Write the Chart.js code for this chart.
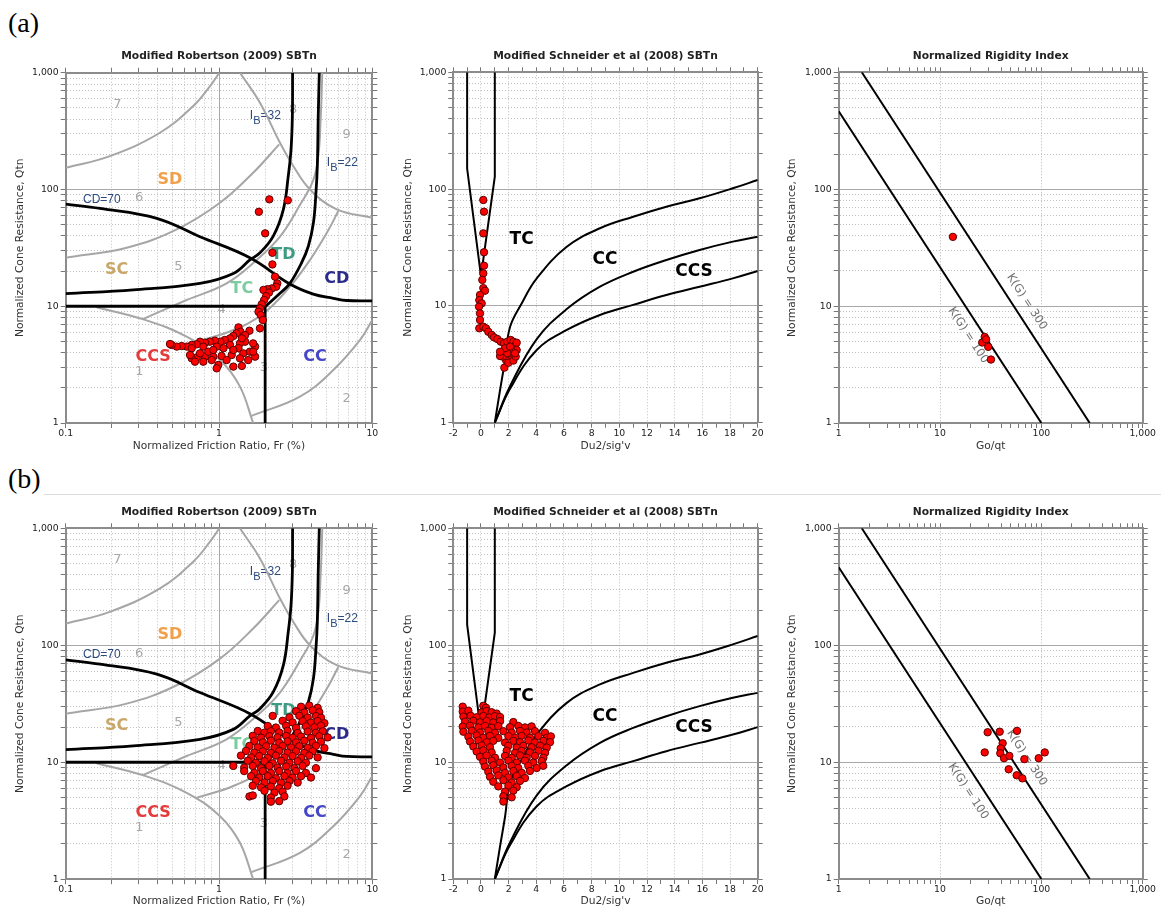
<!DOCTYPE html>
<html>
<head>
<meta charset="utf-8">
<script src="https://cdn.jsdelivr.net/npm/chart.js@4.4.1/dist/chart.umd.min.js"></script>
<style>
  body { margin: 0; background: #fff; width: 1161px; height: 910px; position: relative; overflow: hidden; }
  canvas { position: absolute; }
  .tag { position: absolute; left: 8px; font: 28px "Liberation Serif"; line-height: 28px; color: #000; }
  .sep { position: absolute; left: 44px; right: 0; top: 494px; border-top: 1px solid #dcdcdc; }
</style>
</head>
<body>
<div class="tag" style="top:9px">(a)</div>
<div class="tag" style="top:465px">(b)</div>
<div class="sep"></div>
<canvas id="c1" width="385" height="420" style="left:0;top:40px"></canvas>
<canvas id="c2" width="385" height="420" style="left:390px;top:40px"></canvas>
<canvas id="c3" width="386" height="420" style="left:775px;top:40px"></canvas>
<canvas id="c4" width="385" height="414" style="left:0;top:496px"></canvas>
<canvas id="c5" width="385" height="414" style="left:390px;top:496px"></canvas>
<canvas id="c6" width="386" height="414" style="left:775px;top:496px"></canvas>
<script>
// tick values
const frTicks = [0.1, 0.2, 0.3, 0.4, 0.5, 0.6, 0.7, 0.8, 0.9, 1, 2, 3, 4, 5, 6, 7, 8, 9, 10];
const qTicks = [1, 2, 3, 4, 5, 6, 7, 8, 9, 10, 20, 30, 40, 50, 60, 70, 80, 90, 100, 200, 300, 400, 500, 600, 700, 800, 900, 1000];
const goTicks = [1, 2, 3, 4, 5, 6, 7, 8, 9, 10, 20, 30, 40, 50, 60, 70, 80, 90, 100, 200, 300, 400, 500, 600, 700, 800, 900, 1000];
const duTicks = [-2, -1, 0, 1, 2, 3, 4, 5, 6, 7, 8, 9, 10, 11, 12, 13, 14, 15, 16, 17, 18, 19, 20];
const qLabels = { 1: '1', 10: '10', 100: '100', 1000: '1,000' };
const frLabels = { 0.1: '0.1', 1: '1', 10: '10' };

// Robertson (2009) boundaries  [Fr %, Qtn]
const robZone7 = [[0.1, 153], [0.194, 193], [0.412, 306], [0.679, 518], [0.874, 768], [1.005, 1000]];
const robZone6 = [[0.1, 26], [0.25, 31.7], [0.53, 45.5], [1.015, 76.9], [1.67, 139], [2.47, 243]];
const robZone8 = [[1.37, 1000], [1.85, 553], [2.5, 251], [3.05, 159], [3.92, 100], [5.86, 67.6], [10, 57.3]];
const robZone5 = [[0.321, 7.8], [0.615, 11.3], [1.12, 15.7], [1.76, 24.9], [2.5, 39.4], [3.37, 73.5], [4.12, 120], [4.45, 197], [4.6, 393], [4.72, 1000]];
const robZone4 = [[0.716, 4.97], [1.24, 6.26], [1.95, 8.69], [2.9, 14.7], [3.92, 24.9], [5.17, 44.9], [6.0, 65.3]];
const robZone1 = [[0.159, 9.79], [0.321, 7.73], [0.615, 5.48], [1.015, 3.46], [1.37, 2.05], [1.67, 1]];
const robZone2 = [[1.63, 1.15], [3.37, 1.68], [5.57, 2.84], [8.32, 5.14], [10, 7.62]];
const ibLine32 = [[0.1, 12.8], [0.276, 13.8], [0.751, 15.7], [1.24, 19.1], [1.59, 24.9], [1.85, 28.7], [2.26, 39.9], [2.63, 67.6], [2.83, 130], [2.95, 220], [3.01, 425], [3.02, 1000]];
const ibLine22 = [[2, 10], [2.05, 10.2], [2.5, 12.9], [2.9, 15.7], [3.46, 23.6], [3.83, 32.8], [4.13, 51.9], [4.29, 93.7], [4.38, 159], [4.44, 425], [4.51, 1000]];
const cdLine70 = [[0.1, 75], [0.1675, 68.9], [0.393, 56.6], [0.751, 39.4], [1.59, 26], [2.9, 15.5], [4.12, 12.7], [5.57, 11.7], [6.8, 11.2], [10, 11.1]];
const limQ10 = [[0.1, 10], [2, 10]];
const limFr2 = [[2, 10], [2, 1]];

// Schneider (2008) boundaries  [Du2/sig'v, Qtn]
const schLeftArm = [[-1, 1000], [-1, 150], [0, 18]];
const schRightArm = [[1, 1000], [1, 128], [0, 18]];
const schTC = [[1, 1], [1.375, 1.89], [1.74, 3.41], [2.1, 6.6], [2.94, 10.5], [4.03, 17.2], [6.2, 32.1], [8.6, 46.2], [11, 58], [13.4, 70.7], [15.8, 83.4], [18.2, 101.6], [20, 119.7]];
const schCC = [[1, 1], [2.1, 2.05], [4.03, 5.2], [6.2, 9.4], [8.6, 14.6], [11, 19.6], [13.4, 24.7], [15.8, 30.1], [18.2, 35.5], [20, 39.1]];
const schCCS = [[1, 1], [2.1, 1.95], [4.03, 4.19], [6.2, 6.22], [8.6, 8.36], [11, 10.2], [13.4, 12.4], [15.8, 14.6], [18.2, 17.2], [20, 19.9]];

// rigidity index lines  [Go/qt, Qtn]
const kgLine100 = [[1, 464], [100, 1]];
const kgLine300 = [[1.69, 1000], [300, 1]];

// (a) data
const robTopPts = [[2.13, 82.3], [2.81, 80.7], [1.82, 64.4], [2.0, 42.1], [2.23, 28.7], [2.23, 22.8],
  [2.32, 17.9], [2.40, 15.7], [2.36, 14.7], [2.21, 14.2], [2.07, 14.0], [1.95, 13.8], [2.12, 13.1], [2.03, 12.2],
  [1.97, 11.3], [1.90, 10.4], [1.85, 9.6], [1.81, 8.97], [1.87, 8.41], [1.93, 7.62], [1.85, 6.47],
  [1.58, 6.17], [1.34, 6.59], [1.38, 6.05], [1.30, 5.86], [1.24, 5.56], [1.18, 5.31], [1.44, 5.48], [1.48, 4.97],
  [1.37, 4.81], [1.09, 5.14], [1.02, 4.97], [0.94, 5.07], [0.873, 4.97], [0.811, 4.87], [0.752, 4.97], [0.716, 4.72],
  [0.664, 4.66], [0.616, 4.51], [0.571, 4.56], [0.530, 4.51], [0.491, 4.66], [0.664, 4.37], [0.79, 4.51], [0.966, 4.51],
  [1.18, 4.66], [1.34, 4.37], [1.72, 4.51], [1.67, 4.81], [1.59, 4.08], [1.44, 3.95], [1.21, 3.82], [1.04, 3.75],
  [0.918, 3.70], [0.811, 3.70], [0.716, 3.65], [0.664, 3.58], [0.697, 3.35], [0.79, 3.35], [0.896, 3.46], [0.99, 3.14],
  [0.966, 2.94], [1.24, 3.04], [1.41, 3.08], [1.55, 3.46], [1.72, 3.70], [1.67, 4.08], [1.37, 3.58], [1.12, 3.46],
  [0.851, 4.08], [0.752, 3.95], [1.24, 4.22], [1.07, 4.37], [0.918, 4.22], [1.48, 5.66], [1.41, 5.31], [0.647, 3.82], [0.479, 4.75]];
const schTopPts = [[0.168, 80.7], [0.219, 64.1], [0.168, 41.8], [0.219, 28.8], [0.219, 22.1], [0.168, 19.0], [0.096, 16.7],
  [0.168, 14.2], [0.29, 13.5], [-0.07, 12.4], [-0.12, 11.2], [0.05, 10.5], [-0.14, 9.85], [-0.07, 8.63], [-0.07, 7.57],
  [-0.12, 6.43], [0.168, 6.64], [0.36, 6.43], [0.53, 6.01], [0.775, 5.64], [0.94, 5.38], [1.18, 5.21], [1.43, 4.94],
  [1.66, 4.79], [1.90, 4.94], [2.15, 5.11], [2.34, 4.94], [2.46, 4.54], [2.34, 4.14], [2.22, 3.78], [2.05, 3.49],
  [1.81, 3.44], [1.57, 3.68], [1.38, 3.72], [1.69, 2.96], [1.98, 3.26], [2.34, 3.40], [2.51, 3.68], [2.58, 4.19],
  [2.58, 4.84], [2.22, 4.14], [1.90, 3.93], [1.74, 4.34], [2.10, 4.48], [2.46, 3.93], [1.38, 4.05]];
const kgTopPts = [[13.4, 39.1], [27.6, 5.45], [26.1, 4.88], [29.9, 4.48], [31.8, 3.49], [28.5, 5.2]];

// (b) data
const robBotPts = [[3.43, 29.8], [3.88, 30.5], [4.40, 29.2],
  [3.18, 27.3], [3.60, 26.6], [4.08, 27.8], [4.51, 26.8],
  [2.24, 24.9], [2.88, 24.2], [3.34, 25.0], [3.79, 24.1], [4.29, 24.8], [4.63, 24.0],
  [2.60, 22.6], [3.02, 21.9], [3.51, 22.4], [3.98, 21.8], [4.40, 22.5], [4.87, 21.6],
  [2.08, 20.4], [2.35, 19.8], [2.74, 20.5], [3.18, 19.7], [3.69, 20.3], [4.19, 19.9], [4.63, 20.6],
  [1.79, 18.5], [1.98, 17.9], [2.18, 18.4], [2.47, 18.0], [2.80, 18.6], [3.26, 17.8], [3.79, 18.3], [4.29, 17.9], [4.75, 18.4],
  [1.66, 16.8], [1.88, 16.2], [2.13, 16.7], [2.41, 16.3], [2.74, 16.8], [3.02, 16.2], [3.43, 16.6], [3.98, 16.1], [4.51, 16.7], [5.12, 16.3],
  [1.70, 15.2], [1.93, 14.8], [2.18, 15.3], [2.47, 14.7], [2.80, 15.1], [3.18, 14.8], [3.60, 15.3], [4.08, 14.7], [4.63, 15.0],
  [1.58, 13.8], [1.79, 13.4], [2.03, 13.7], [2.30, 13.3], [2.60, 13.8], [2.95, 13.4], [3.34, 13.7], [3.79, 13.3], [4.29, 13.8], [4.87, 13.2],
  [1.50, 12.5], [1.70, 12.1], [1.93, 12.4], [2.18, 12.0], [2.47, 12.5], [2.80, 12.1], [3.18, 12.4], [3.60, 12.0], [4.08, 12.4],
  [1.39, 11.4], [1.62, 11.0], [1.83, 11.3], [2.08, 10.9], [2.35, 11.4], [2.67, 11.0], [3.02, 11.3], [3.43, 10.9], [3.88, 11.4], [4.40, 11.0],
  [1.54, 10.3], [1.74, 9.9], [1.98, 10.2], [2.24, 9.8], [2.54, 10.3], [2.88, 9.9], [3.26, 10.2], [3.69, 9.9],
  [1.24, 9.3], [1.46, 9.0], [1.66, 9.3], [1.88, 8.9], [2.13, 9.3], [2.41, 9.0], [2.74, 9.2], [3.10, 8.9], [3.51, 9.3], [4.29, 8.9],
  [1.46, 8.4], [1.70, 8.1], [1.93, 8.4], [2.18, 8.1], [2.47, 8.4], [2.80, 8.1], [3.18, 8.4], [3.69, 8.1],
  [1.62, 7.6], [1.83, 7.4], [2.08, 7.6], [2.35, 7.3], [2.67, 7.6], [3.02, 7.4], [3.43, 7.6], [3.98, 7.4],
  [1.74, 6.9], [1.98, 6.7], [2.24, 6.9], [2.54, 6.7], [2.88, 6.9], [3.26, 6.7],
  [1.66, 6.3], [1.88, 6.1], [2.18, 6.2], [2.47, 6.0], [2.80, 6.3],
  [1.98, 5.7], [2.30, 5.5], [2.60, 5.6],
  [1.58, 5.1], [1.66, 5.2], [2.18, 5.0], [2.67, 5.1],
  [2.18, 4.6], [2.47, 4.65]];
const schBotPts = [[-1.32, 29.8], [0.17, 30.3], [0.36, 29.2],
  [-1.32, 27.0], [-0.91, 27.5], [0.05, 26.6], [0.41, 27.4], [0.77, 26.7], [1.13, 26.0],
  [-1.27, 24.5], [-0.74, 24.9], [-0.31, 24.2], [0.17, 24.8], [0.60, 24.1], [1.01, 24.7], [1.38, 24.3],
  [-1.15, 22.2], [-0.55, 22.6], [-0.07, 21.9], [0.41, 22.5], [0.89, 21.8], [1.38, 22.4], [2.34, 22.0],
  [-1.32, 20.1], [-0.79, 20.5], [-0.19, 19.8], [0.29, 20.4], [0.77, 19.7], [1.25, 20.3], [2.10, 19.9], [2.70, 20.4], [3.18, 19.8], [3.66, 20.2],
  [-1.27, 18.2], [-0.67, 18.6], [-0.07, 17.9], [0.53, 18.5], [1.01, 17.8], [1.62, 18.4], [2.22, 17.9], [2.82, 18.5], [3.30, 17.9], [3.90, 18.4], [4.63, 17.8],
  [-0.91, 16.5], [-0.31, 16.9], [0.17, 16.2], [0.65, 16.8], [1.25, 16.1], [1.98, 16.7], [2.46, 16.2], [2.94, 16.8], [3.54, 16.2], [4.15, 16.7], [4.75, 16.1], [5.05, 16.6],
  [-0.79, 15.0], [-0.19, 15.3], [0.41, 14.8], [0.89, 15.2], [1.74, 14.7], [2.34, 15.2], [2.82, 14.8], [3.42, 15.3], [3.90, 14.7], [4.51, 15.2], [4.99, 14.8],
  [-0.55, 13.6], [0.05, 13.9], [0.65, 13.4], [1.98, 13.8], [2.58, 13.3], [3.06, 13.8], [3.66, 13.4], [4.27, 13.8], [4.75, 13.3],
  [-0.31, 12.3], [0.17, 12.6], [0.77, 12.1], [1.86, 12.5], [2.46, 12.0], [2.94, 12.5], [3.54, 12.1], [4.15, 12.5], [4.63, 12.0],
  [-0.07, 11.1], [0.41, 11.4], [1.01, 10.9], [1.74, 11.3], [2.22, 10.9], [2.82, 11.4], [3.30, 10.9], [3.90, 11.3], [4.51, 10.9],
  [0.17, 10.1], [0.77, 10.3], [1.38, 9.9], [1.98, 10.3], [2.58, 9.9], [3.18, 10.3], [3.78, 9.9], [4.39, 10.2],
  [0.29, 9.15], [0.89, 9.4], [1.62, 9.0], [2.22, 9.3], [2.70, 8.9], [3.42, 9.3], [4.03, 8.9], [4.5, 9.3],
  [0.53, 8.3], [1.13, 8.5], [1.74, 8.1], [2.34, 8.4], [2.94, 8.1], [3.54, 8.4],
  [0.65, 7.5], [1.25, 7.7], [1.98, 7.4], [2.58, 7.6], [3.18, 7.3],
  [0.89, 6.8], [1.62, 7.0], [2.22, 6.7], [2.82, 6.9],
  [1.25, 6.2], [1.98, 6.3], [2.58, 6.1],
  [1.74, 5.6], [2.34, 5.7],
  [1.62, 5.1], [2.22, 5.0],
  [1.62, 4.6]];
const kgBotPts = [[29.5, 18.0], [38.8, 18.2], [57.5, 18.5], [27.6, 12.1], [41.5, 14.5], [39.7, 13.1], [39.3, 11.9], [42.8, 10.8],
  [48.3, 11.3], [67.9, 10.6], [94.1, 10.8], [108, 12.1], [47.6, 8.68], [57.1, 7.71], [64.9, 7.26]];

const FONT = 'DejaVu Sans';
const MAJ = '#a8a8a8', MIN = '#c0c0c0', NONE = 'rgba(0,0,0,0)', DOT = [1, 2];

const qAxis = {
  type: 'logarithmic', min: 1, max: 1000, ticks: qTicks, title: 'Normalized Cone Resistance, Qtn',
  label: v => qLabels[v] || '',
  gridColor: v => (v === 10 || v === 100) ? MAJ : MIN,
  gridDash: v => (v === 10 || v === 100) ? [] : DOT
};
const frAxis = {
  type: 'logarithmic', min: 0.1, max: 10, ticks: frTicks, title: 'Normalized Friction Ratio, Fr (%)',
  label: v => frLabels[v] || '',
  gridColor: v => v === 1 ? MAJ : MIN,
  gridDash: v => v === 1 ? [] : DOT
};
const duAxis = {
  type: 'linear', min: -2, max: 20, ticks: duTicks, title: "Du2/sig'v",
  label: v => v % 2 === 0 ? String(v) : '',
  gridColor: v => v % 2 === 0 ? MIN : NONE,
  gridDash: v => DOT
};
const goAxis = {
  type: 'logarithmic', min: 1, max: 1000, ticks: goTicks, title: 'Go/qt',
  label: v => qLabels[v] || '',
  gridColor: v => (v === 10 || v === 100) ? '#b4b4b4' : NONE,
  gridDash: v => DOT
};

function zeroPad(s) { s.paddingLeft = 0; s.paddingRight = 0; s.paddingTop = 0; s.paddingBottom = 0; }

function mainAxis(spec, pos, size, titlePad) {
  const vertical = pos === 'left';
  return {
    type: spec.type, position: pos, min: spec.min, max: spec.max,
    afterBuildTicks: s => { s.ticks = spec.ticks.map(v => ({ value: v })); },
    afterFit: s => { if (vertical) s.width = size; else s.height = size; zeroPad(s); },
    ticks: {
      autoSkip: false, maxRotation: 0, minRotation: 0, padding: vertical ? 2 : 0,
      color: '#222', font: { family: FONT, size: 9.3 },
      callback: v => spec.label(v)
    },
    grid: {
      color: c => c.tick ? spec.gridColor(c.tick.value) : MIN,
      lineWidth: 1, tickColor: '#777', tickLength: 5
    },
    border: { color: '#8c8c8c', width: 2, dash: c => c.tick ? spec.gridDash(c.tick.value) : [] },
    title: { display: true, text: spec.title, color: '#333', font: { family: FONT, size: 10.7 }, padding: titlePad }
  };
}

function mirrorAxis(spec, pos) {
  const vertical = pos === 'right';
  return {
    type: spec.type, position: pos, min: spec.min, max: spec.max,
    afterBuildTicks: s => { s.ticks = spec.ticks.map(v => ({ value: v })); },
    afterFit: s => { if (vertical) s.width = 6; else s.height = 6; zeroPad(s); },
    ticks: { display: false },
    grid: { drawOnChartArea: false, drawTicks: true, tickLength: 5, tickColor: '#777', color: NONE },
    border: { color: '#8c8c8c', width: 2 },
    title: { display: false }
  };
}

const pts = a => a.map(p => ({ x: p[0], y: p[1] }));
const gray = d => ({ data: pts(d), showLine: true, pointRadius: 0, borderColor: '#a6a6a6', borderWidth: 2, tension: 0.4, fill: false, order: 2 });
const black = (d, w, t) => ({ data: pts(d), showLine: true, pointRadius: 0, borderColor: '#000', borderWidth: w, tension: t, fill: false, order: 1 });
const dots = d => ({ data: pts(d), showLine: false, pointRadius: 3.7, pointBackgroundColor: '#ff0000', pointBorderColor: '#5a0000', pointBorderWidth: 1, order: 0 });

// in-plot annotations
const NUM = '13px "DejaVu Sans"', BIG = 'bold 16px "DejaVu Sans"', NAVY = '#2a4a7f';
const robLabels = [
  { text: '7', x: 0.217, y: 535, color: '#a8a8a8', font: NUM },
  { text: '6', x: 0.301, y: 84.9, color: '#a8a8a8', font: NUM },
  { text: '5', x: 0.543, y: 21.8, color: '#a8a8a8', font: NUM },
  { text: '4', x: 1.04, y: 9.28, color: '#a8a8a8', font: NUM },
  { text: '1', x: 0.302, y: 2.75, color: '#a8a8a8', font: NUM },
  { text: '3', x: 1.96, y: 2.96, color: '#a8a8a8', font: NUM },
  { text: '2', x: 6.81, y: 1.63, color: '#a8a8a8', font: NUM },
  { text: '8', x: 3.05, y: 485, color: '#a8a8a8', font: NUM },
  { text: '9', x: 6.81, y: 296, color: '#a8a8a8', font: NUM },
  { text: 'SD', x: 0.479, y: 122, color: '#f0a04a', font: BIG },
  { text: 'SC', x: 0.215, y: 20.4, color: '#c9a76b', font: BIG },
  { text: 'TC', x: 1.41, y: 14.0, color: '#7dcca0', font: BIG },
  { text: 'TD', x: 2.63, y: 27.4, color: '#3c9b82', font: BIG },
  { text: 'CD', x: 5.86, y: 17.0, color: '#2b2b8c', font: BIG },
  { text: 'CC', x: 4.23, y: 3.70, color: '#4646c8', font: BIG },
  { text: 'CCS', x: 0.372, y: 3.70, color: '#e33a3a', font: BIG },
  { text: 'CD=70', x: 0.172, y: 82.3, color: NAVY, font: '12px "Liberation Sans"' },
  { parts: ['I', 'B', '=32'], x: 1.59, y: 398, color: NAVY, font: '12px "Liberation Sans"', subFont: '11px "Liberation Sans"' },
  { parts: ['I', 'B', '=22'], x: 5.05, y: 158.6, color: NAVY, font: '12px "Liberation Sans"', subFont: '11px "Liberation Sans"' }
];
const SCH = 'bold 17px "DejaVu Sans"';
const schLabels = [
  { text: 'TC', x: 2.94, y: 36.7, color: '#000', font: SCH },
  { text: 'CC', x: 8.96, y: 24.7, color: '#000', font: SCH },
  { text: 'CCS', x: 15.4, y: 19.6, color: '#000', font: SCH }
];
const kgLabels = [
  { text: 'K(G) = 300', x: 71.7, y: 10.9, rot: 57, color: '#707070', font: '11.5px "DejaVu Sans"' },
  { text: 'K(G) = 100', x: 19.0, y: 5.63, rot: 57, color: '#707070', font: '11.5px "DejaVu Sans"' }
];

function textPlugin(items) {
  return {
    id: 'zoneText',
    beforeDatasetsDraw(chart) {
      const ctx = chart.ctx, sx = chart.scales.x, sy = chart.scales.y;
      ctx.save();
      items.forEach(it => {
        const px = sx.getPixelForValue(it.x), py = sy.getPixelForValue(it.y);
        ctx.fillStyle = it.color;
        ctx.font = it.font;
        if (it.parts) {
          ctx.textAlign = 'left';
          ctx.textBaseline = 'alphabetic';
          let cx = px;
          ctx.fillText(it.parts[0], cx, py);
          cx += ctx.measureText(it.parts[0]).width;
          ctx.font = it.subFont;
          ctx.fillText(it.parts[1], cx, py + 5);
          cx += ctx.measureText(it.parts[1]).width;
          ctx.font = it.font;
          ctx.fillText(it.parts[2], cx, py);
        } else {
          ctx.save();
          ctx.translate(px, py);
          if (it.rot) ctx.rotate(it.rot * Math.PI / 180);
          ctx.textAlign = 'center';
          ctx.textBaseline = 'middle';
          ctx.fillText(it.text, 0, 0);
          ctx.restore();
        }
      });
      ctx.restore();
    }
  };
}

function build(id, geo, xSpec, title, datasets, labels) {
  const cv = document.getElementById(id);
  const W = cv.width, H = cv.height;
  new Chart(cv, {
    type: 'line',
    data: { datasets: datasets },
    options: {
      responsive: false,
      animation: false,
      events: [],
      layout: { padding: { left: 0, top: 0, bottom: 0, right: W - geo.right - 6 } },
      plugins: {
        legend: { display: false },
        tooltip: { enabled: false },
        title: {
          display: true, text: title, fullSize: false, color: '#222',
          font: { family: FONT, size: 10.7, weight: 'bold' },
          padding: { top: geo.top - 22.42, bottom: 3.58 }
        }
      },
      scales: {
        x: mainAxis(xSpec, 'bottom', H - geo.bottom, { top: 0, bottom: geo.xtPad }),
        y: mainAxis(qAxis, 'left', geo.left, { top: geo.ytPad, bottom: 0 }),
        x2: mirrorAxis(xSpec, 'top'),
        y2: mirrorAxis(qAxis, 'right')
      }
    },
    plugins: [textPlugin(labels)]
  });
}

function robSets(p) {
  return [gray(robZone7), gray(robZone6), gray(robZone8), gray(robZone5), gray(robZone4), gray(robZone1), gray(robZone2),
    black(ibLine32, 2.8, 0.4), black(ibLine22, 2.8, 0.4), black(cdLine70, 2.8, 0.4),
    black(limQ10, 2.8, 0), black(limFr2, 2.8, 0), dots(p)];
}
function schSets(p) {
  return [black(schLeftArm, 2, 0), black(schRightArm, 2, 0), black(schTC, 2, 0.4), black(schCC, 2, 0.4), black(schCCS, 2, 0.4), dots(p)];
}
function kgSets(p) {
  return [black(kgLine100, 2, 0), black(kgLine300, 2, 0), dots(p)];
}

const T1 = 'Modified Robertson (2009) SBTn', T2 = 'Modified Schneider et al (2008) SBTn', T3 = 'Normalized Rigidity Index';

build('c1', { left: 65.7, right: 372.3, top: 32.7, bottom: 383, ytPad: 13.6, xtPad: 6.9 }, frAxis, T1, robSets(robTopPts), robLabels);
build('c2', { left: 63.3, right: 367.7, top: 32.3, bottom: 382.7, ytPad: 11.9, xtPad: 6.9 }, duAxis, T2, schSets(schTopPts), schLabels);
build('c3', { left: 63.7, right: 367.7, top: 32.3, bottom: 383, ytPad: 10.9, xtPad: 6.9 }, goAxis, T3, kgSets(kgTopPts), kgLabels);
build('c4', { left: 65.7, right: 372.3, top: 32.3, bottom: 383.2, ytPad: 13.6, xtPad: 1.9 }, frAxis, T1, robSets(robBotPts), robLabels);
build('c5', { left: 63.3, right: 367.7, top: 32.3, bottom: 383, ytPad: 11.9, xtPad: 1.9 }, duAxis, T2, schSets(schBotPts), schLabels);
build('c6', { left: 63.7, right: 367.7, top: 32.3, bottom: 383, ytPad: 10.9, xtPad: 1.9 }, goAxis, T3, kgSets(kgBotPts), kgLabels);
</script>
</body>
</html>
